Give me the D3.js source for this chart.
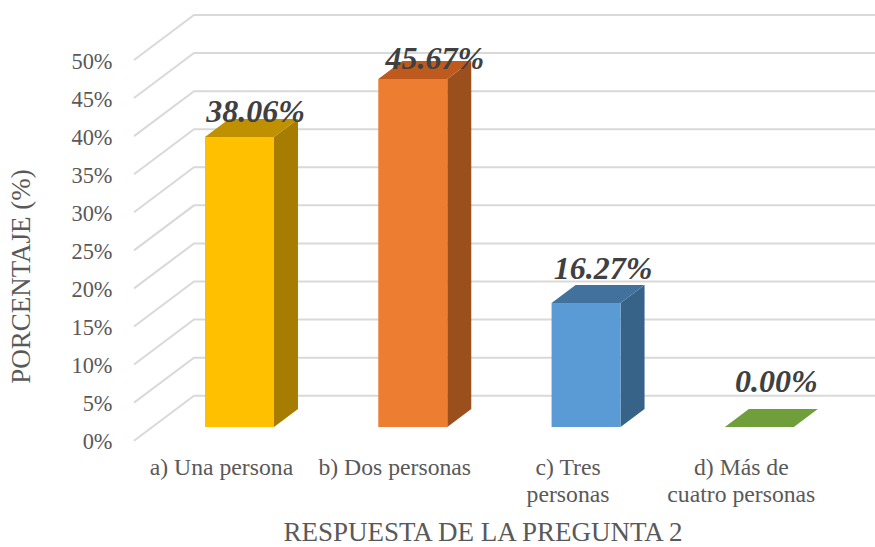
<!DOCTYPE html>
<html><head><meta charset="utf-8">
<style>html,body{margin:0;padding:0;background:#fff}svg{display:block}text{font-family:"Liberation Serif","Times New Roman",serif}</style>
<script src="https://cdn.jsdelivr.net/npm/d3@7/dist/d3.min.js"></script>
</head><body><svg id="c" width="875" height="547"></svg>
<script>
const categories = ["a) Una persona","b) Dos personas","c) Tres personas","d) Más de cuatro personas"];
const categoryLines = [["a) Una persona"],["b) Dos personas"],["c) Tres","personas"],["d) Más de","cuatro personas"]];
const values = [38.06,45.67,16.27,0];
const valueLabels = ["38.06%","45.67%","16.27%","0.00%"];
const yTicks = [0,5,10,15,20,25,30,35,40,45,50];
const frontColors = ["#FFC000","#ED7D31","#5B9BD5","#70AD47"];
const sideColors = ["#A67D00","#9A4F1C","#376389","#4F7A30"];
const topColors = ["#BF9000","#BE5A1E","#41719C","#6F9E3B"];
const labelDx = [16,22,17,17];
const labelDy = [15,10,24,35];

const svg = d3.select("#c");
const yFront = d3.scaleLinear().domain([0,50]).range([440.7,60]);
const dz = {x:60,y:-45};
const x = d3.scaleBand().domain(categories).range([152.85,846]).paddingInner(.602).paddingOuter(.301);
const barY = d3.scaleLinear().domain([0,50]).range([427,46]);
const d = {x:24,y:-18};

// grid
const grid = svg.append("g").attr("fill","none").attr("stroke","#d9d9d9").attr("stroke-width",2);
yTicks.forEach(t=>{
  const y0=yFront(t);
  grid.append("path").attr("d",d3.line()([[134,y0],[134+dz.x,y0+dz.y],[875,y0+dz.y]]));
});
// y axis
const ax = svg.append("g").attr("transform","translate(112.5,1)")
  .call(d3.axisLeft(yFront).tickValues(yTicks).tickSize(0).tickPadding(0).tickFormat(v=>v+"%"));
ax.select(".domain").remove();
ax.selectAll("text").attr("font-size",22.4).attr("fill","#595959").attr("font-family","Liberation Serif").attr("dy","0.32em");

// bars
categories.forEach((c,i)=>{
  const x0=x(c), x1=x0+x.bandwidth(), yT=barY(values[i]), yB=barY(0);
  const g=svg.append("g");
  if(values[i]>0){
    g.append("path").attr("fill",sideColors[i]).attr("d",d3.line()([[x1,yT],[x1+d.x,yT+d.y],[x1+d.x,yB+d.y],[x1,yB]]));
    g.append("rect").attr("x",x0).attr("y",yT).attr("width",x.bandwidth()).attr("height",yB-yT).attr("fill",frontColors[i]);
  }
  g.append("path").attr("fill",topColors[i]).attr("d",d3.line()([[x0,yT],[x0+d.x,yT+d.y],[x1+d.x,yT+d.y],[x1,yT]]));
  svg.append("text").attr("x",(x0+x1)/2+labelDx[i]).attr("y",yT-labelDy[i]).attr("text-anchor","middle")
    .attr("font-size",32).attr("font-weight","bold").attr("font-style","italic").attr("fill","#404040").text(valueLabels[i]);
  const tl=svg.append("text").attr("text-anchor","middle").attr("font-size",23.7).attr("fill","#595959");
  categoryLines[i].forEach((l,j)=>tl.append("tspan").attr("x",(x0+x1)/2-18).attr("y",475+j*27).text(l));
});
svg.append("text").attr("x",483).attr("y",541).attr("text-anchor","middle").attr("font-size",27).attr("fill","#595959").text("RESPUESTA DE LA PREGUNTA 2");
svg.append("text").attr("transform","translate(30,276.5) rotate(-90)").attr("text-anchor","middle").attr("font-size",27).attr("fill","#595959").text("PORCENTAJE (%)");
</script></body></html>
